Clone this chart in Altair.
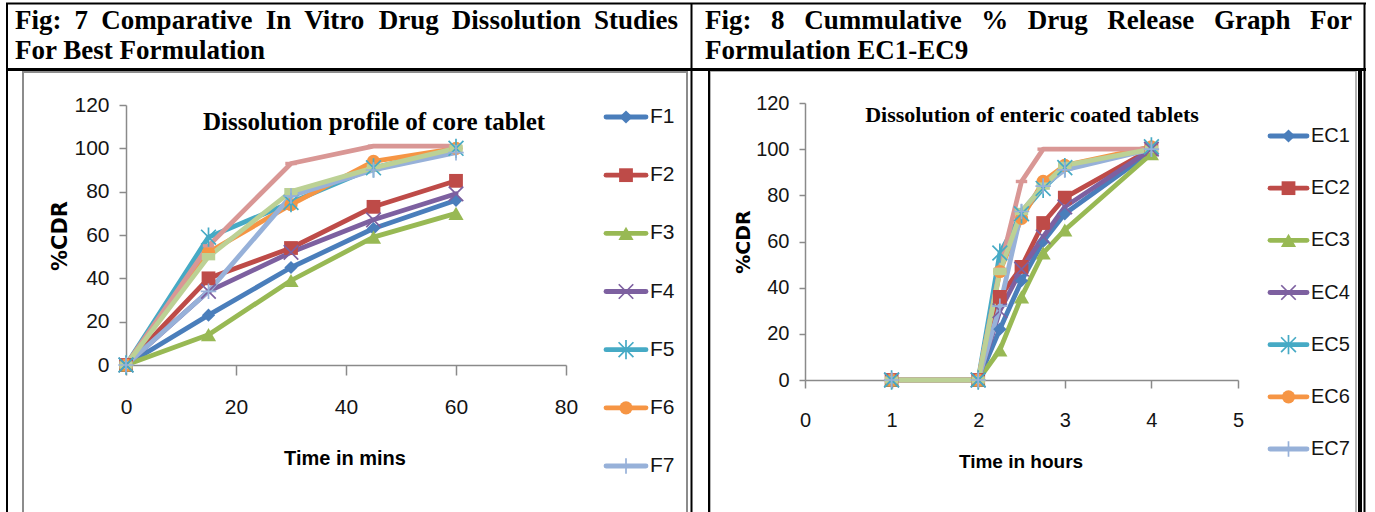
import altair as alt
import pandas as pd

# ---------------- data: Fig 7 (core tablets, time in minutes) ----------------
TIME_MIN = [0, 15, 30, 45, 60]
F1 = [0, 23, 45, 63, 76]
F2 = [0, 40, 54, 73, 85]
F3 = [0, 14, 39, 59, 70]
F4 = [0, 34, 52, 67, 79]
F5 = [0, 59, 75, 91, 100]
F6 = [0, 52, 74, 94, 100]
F7 = [0, 34, 78, 90, 98]
F8 = [0, 55, 93, 101, 101]
F9 = [0, 50, 80, 91, 100]
F_NAMES = ["F1", "F2", "F3", "F4", "F5", "F6", "F7", "F8", "F9"]
F_SERIES = [F1, F2, F3, F4, F5, F6, F7, F8, F9]
F_LEGEND = ["F1", "F2", "F3", "F4", "F5", "F6", "F7"]   # entries visible in the picture

# ---------------- data: Fig 8 (enteric coated tablets, time in hours) ----------------
TIME_HR = [1, 2, 2.25, 2.5, 2.75, 3, 4]
EC1 = [0, 0, 22, 43, 60, 72, 99]
EC2 = [0, 0, 36, 49, 68, 79, 100]
EC3 = [0, 0, 13, 36, 55, 65, 98]
EC4 = [0, 0, 30, 48, 62, 75, 100]
EC5 = [0, 0, 55, 72, 83, 92, 101]
EC6 = [0, 0, 47, 70, 86, 93, 101]
EC7 = [0, 0, 32, 73, 84, 91, 100]
EC8 = [0, 0, 48, 86, 100, 100, 100]
EC9 = [0, 0, 47, 73, 84, 93, 100]
EC_NAMES = ["EC1", "EC2", "EC3", "EC4", "EC5", "EC6", "EC7", "EC8", "EC9"]
EC_SERIES = [EC1, EC2, EC3, EC4, EC5, EC6, EC7, EC8, EC9]
EC_LEGEND = ["EC1", "EC2", "EC3", "EC4", "EC5", "EC6", "EC7"]

X_TICKS_MIN = [0, 20, 40, 60, 80]
X_TICKS_HR = [0, 1, 2, 3, 4, 5]
Y_TICKS = [0, 20, 40, 60, 80, 100, 120]

FIG7_HEADER = ["Fig: 7 Comparative In Vitro Drug Dissolution Studies", "For Best Formulation"]
FIG8_HEADER = ["Fig: 8 Cummulative % Drug Release Graph For", "Formulation EC1-EC9"]
FIG7_TITLE = "Dissolution profile of core tablet"
FIG8_TITLE = "Dissolution of enteric coated tablets"
FIG7_XTITLE = "Time in mins"
FIG8_XTITLE = "Time in hours"
Y_TITLE = "%CDR"

# ---------------- styles ----------------
W, H = 1375, 512
COLORS = ["#4A7EBB", "#BE4B48", "#98B954", "#7D60A0", "#46AAC5",
          "#F69544", "#97B1D9", "#D99795", "#BCD195"]
X_PATH = "M-1,-1L1,1M-1,1L1,-1"
STAR_PATH = "M-1,-1L1,1M-1,1L1,-1M0,-1.3L0,1.3"
PLUS_PATH = "M0,-1L0,1M-1,0L1,0"
DASH_PATH = "M-1,-0.3L1,-0.3L1,0.3L-1,0.3Z"
LDASH_PATH = "M-1,-0.55L1,-0.55L1,0.55L-1,0.55Z"
MARKERS = [("diamond", True, 175), ("square", True, 190), ("triangle-up", True, 230),
           (X_PATH, False, 210), (STAR_PATH, False, 220), ("circle", True, 175),
           (PLUS_PATH, False, 240), (DASH_PATH, True, 130), (LDASH_PATH, True, 180)]

SANS = "Liberation Sans, Arial, sans-serif"
SERIF = "Liberation Serif, Times New Roman, serif"
BOLD_SANS = "DejaVu Sans, Verdana, sans-serif"
AXIS_GREY = "#8A8A8A"
TXT = "#141414"

TNR_BOLD = {" ": .25, "%": 1.0, "-": .333, ":": .333, "1": .5, "7": .5, "8": .5, "9": .5,
            "B": .667, "C": .722, "D": .722, "E": .667, "F": .611, "G": .778, "I": .389,
            "R": .722, "S": .556, "V": .722, "a": .5, "b": .556, "c": .444, "d": .556,
            "e": .444, "f": .333, "g": .5, "h": .556, "i": .278, "l": .278, "m": .833,
            "n": .556, "o": .5, "p": .556, "r": .444, "s": .389, "t": .333, "u": .556, "v": .5}

dummy = pd.DataFrame({"k": [0]})


def rule(x1, y1, x2, y2, color="black", w=2):
    return alt.Chart(dummy).mark_rule(color=color, strokeWidth=w, strokeCap="butt").encode(
        x=alt.value(x1), y=alt.value(y1), x2=alt.value(x2), y2=alt.value(y2))


def frame(x1, y1, x2, y2, color, w):
    return alt.Chart(dummy).mark_rect(fillOpacity=0, stroke=color, strokeWidth=w).encode(
        x=alt.value(x1), y=alt.value(y1), x2=alt.value(x2), y2=alt.value(y2))


def label(text, x, y, size, font, weight="normal", align="left", baseline="alphabetic", angle=0, color=TXT):
    return alt.Chart(dummy).mark_text(text=text, font=font, fontSize=size, fontWeight=weight,
                                      align=align, baseline=baseline, angle=angle, color=color).encode(
        x=alt.value(x), y=alt.value(y))


def justified_line(text, x0, x1, y, size):
    words = text.split(" ")
    widths = [sum(TNR_BOLD.get(c, .5) for c in wd) * size for wd in words]
    gap = (x1 - x0 - sum(widths)) / (len(words) - 1)
    out, x = [], x0
    for wd, wi in zip(words, widths):
        out.append(label(wd, x, y, size, SERIF, "bold", color="black"))
        x += wi + gap
    return out


def long_frame(times, names, series):
    rows = []
    for i, (n, vals) in enumerate(zip(names, series)):
        shape, filled, size = MARKERS[i]
        for t, v in zip(times, vals):
            rows.append({"t": t, "v": v, "series": n, "color": COLORS[i],
                         "shape": shape, "filled": filled, "size": size})
    return pd.DataFrame(rows)


def plot_block(df, xdom, xrange, yrange, xticks, xtick, ytick, xpad, ypad, lsize):
    x = alt.X("t:Q", scale=alt.Scale(domain=xdom, range=xrange, nice=False, zero=False),
              axis=alt.Axis(orient="bottom", offset=yrange[0] - H, values=xticks, title=None,
                            tickSize=xtick, labelPadding=xpad, labelFontSize=lsize, format="d"))
    y = alt.Y("v:Q", scale=alt.Scale(domain=[0, 120], range=yrange, nice=False, zero=False),
              axis=alt.Axis(orient="left", offset=-xrange[0], values=Y_TICKS, title=None,
                            tickSize=ytick, labelPadding=ypad, labelFontSize=lsize, format="d"))
    col = alt.Color("color:N", scale=None)
    shp = alt.Shape("shape:N", scale=None)
    siz = alt.Size("size:Q", scale=None)
    base = alt.Chart(df)
    lines = base.mark_line(strokeWidth=4.8, strokeJoin="round", strokeCap="round").encode(
        x=x, y=y, detail="series:N", color=col, order="t:Q")
    filled = base.transform_filter("datum.filled").mark_point(filled=True, opacity=1).encode(
        x=x, y=y, shape=shp, size=siz, color=col)
    stroked = base.transform_filter("!datum.filled").mark_point(filled=False, opacity=1, strokeWidth=1.7).encode(
        x=x, y=y, shape=shp, size=siz, color=col)
    return alt.layer(lines, filled, stroked)


def legend_block(df, names, xl1, xl2, xt, y_first, y_last, lsize):
    ld = df.drop_duplicates("series")
    ld = ld[ld["series"].isin(names)]
    y = alt.Y("series:N", scale=alt.Scale(type="point", domain=names, range=[y_first, y_last], padding=0),
              axis=None)
    col = alt.Color("color:N", scale=None)
    shp = alt.Shape("shape:N", scale=None)
    siz = alt.Size("size:Q", scale=None)
    base = alt.Chart(ld)
    line = base.mark_rule(strokeWidth=4.8, strokeCap="round").encode(
        x=alt.value(xl1), x2=alt.value(xl2), y=y, color=col)
    filled = base.transform_filter("datum.filled").mark_point(filled=True, opacity=1).encode(
        x=alt.value((xl1 + xl2) / 2), y=y, shape=shp, size=siz, color=col)
    stroked = base.transform_filter("!datum.filled").mark_point(filled=False, opacity=1, strokeWidth=1.7).encode(
        x=alt.value((xl1 + xl2) / 2), y=y, shape=shp, size=siz, color=col)
    txt = base.mark_text(align="left", baseline="middle", font=SANS, fontSize=lsize, color=TXT).encode(
        x=alt.value(xt), y=y, text="series:N")
    return alt.layer(line, filled, stroked, txt)


df7 = long_frame(TIME_MIN, F_NAMES, F_SERIES)
df8 = long_frame(TIME_HR, EC_NAMES, EC_SERIES)

# ---------------- table / frames ----------------
decor = [
    frame(23, 72, 687, 530, "#8C8C8C", 2),          # left chart area
    frame(710, 71, 1356, 530, "#9A9A9A", 1.5),      # right chart inner border
    rule(709, 69, 709, 512, "black", 2),
    rule(1360, 69, 1360, 512, "black", 4),
    rule(6, 3.5, 1366, 3.5, "black", 2),
    rule(7, 3, 7, 512, "black", 2),
    rule(1364.5, 3, 1364.5, 512, "black", 2),
    rule(691.5, 3, 691.5, 512, "black", 2),
    rule(6, 69.5, 1366, 69.5, "black", 3),
]

texts = []
texts += justified_line(FIG7_HEADER[0], 15, 678, 29, 27)
texts.append(label(FIG7_HEADER[1], 15, 59, 27, SERIF, "bold", color="black"))
texts += justified_line(FIG8_HEADER[0], 705, 1352, 29, 27)
texts.append(label(FIG8_HEADER[1], 705, 59, 27, SERIF, "bold", color="black"))
texts += [
    label(FIG7_TITLE, 374, 130, 25, SERIF, "bold", align="center", color="black"),
    label(FIG8_TITLE, 1032, 122, 22, SERIF, "bold", align="center", color="black"),
    label(Y_TITLE, 61, 236, 21, BOLD_SANS, "bold", align="center", baseline="middle", angle=270, color="black"),
    label(Y_TITLE, 744, 242, 19, BOLD_SANS, "bold", align="center", baseline="middle", angle=270, color="black"),
    label(FIG7_XTITLE, 345, 465, 20, SANS, "bold", align="center", color="black"),
    label(FIG8_XTITLE, 1021, 468, 19, SANS, "bold", align="center", color="black"),
]

left_plot = plot_block(df7, [0, 80], [126, 566], [365, 105], X_TICKS_MIN, 10, 7, 21, 10, 21)
right_plot = plot_block(df8, [0, 5], [805, 1238], [380, 103], X_TICKS_HR, 8, 6, 22, 10, 20)
left_legend = legend_block(df7, F_LEGEND, 606, 646, 650, 117, 466, 21)
right_legend = legend_block(df8, EC_LEGEND, 1270, 1307, 1311, 136, 449, 20)

chart = alt.layer(
    *decor, left_plot, right_plot, left_legend, right_legend, *texts
).resolve_scale(
    x="independent", y="independent"
).resolve_axis(
    x="independent", y="independent"
).properties(
    width=W, height=H, padding=0, background="white",
    autosize=alt.AutoSizeParams(type="none"),
).configure_view(
    stroke=None
).configure_axis(
    domainColor=AXIS_GREY, tickColor=AXIS_GREY, domainWidth=1.5, tickWidth=1.5,
    labelColor=TXT, labelFont=SANS, labelFlush=False, labelOverlap=False,
    labelBound=False, grid=False,
)

chart.save("out.html", embed_options={"renderer": "svg", "actions": False})
